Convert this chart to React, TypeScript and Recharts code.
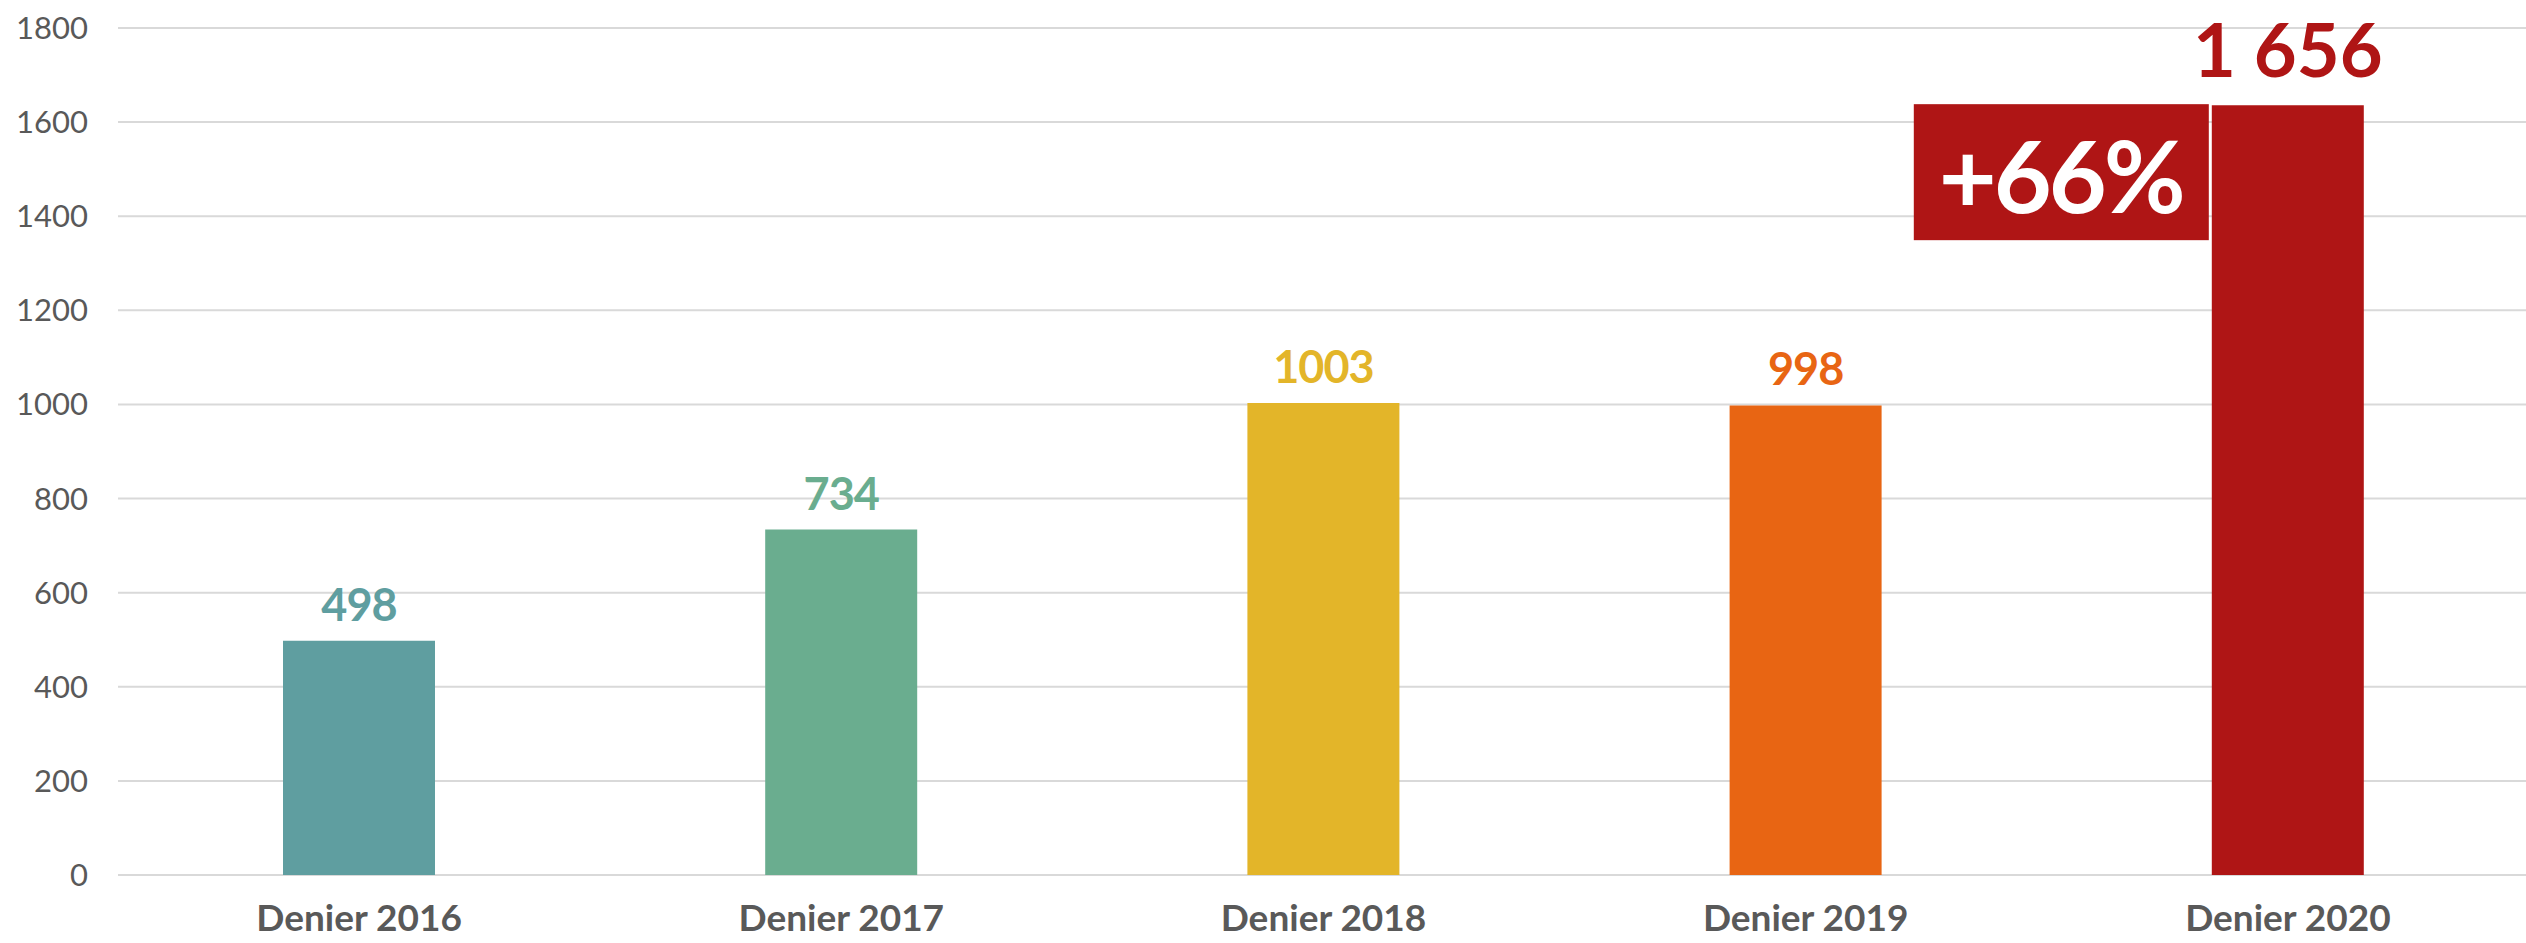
import { BarChart, Bar, XAxis, YAxis, CartesianGrid, Cell, LabelList } from 'recharts';

const categories = ['Denier 2016', 'Denier 2017', 'Denier 2018', 'Denier 2019', 'Denier 2020'];
const values = [498, 734, 1003, 998, 1636];
const valueLabels = ['498', '734', '1003', '998', '1 656'];
const barColors = ['#5F9EA0', '#6AAD8F', '#E3B529', '#E86513', '#AF1515'];
const yTicks = [0, 200, 400, 600, 800, 1000, 1200, 1400, 1600, 1800];
const growthLabel = '+66%';

const data = categories.map((name, i) => ({ name, value: values[i], label: valueLabels[i] }));

const FONT = 'Lato, "Noto Sans", sans-serif';
const last = categories.length - 1;

const ValueLabel = (props: any) => {
  const { x, y, width, index } = props;
  const big = index === last;
  return (
    <text
      x={x + width / 2}
      y={y - (big ? 28 : 20)}
      textAnchor="middle"
      fill={barColors[index]}
      fontFamily={FONT}
      fontWeight={700}
      fontSize={big ? 74 : 45}
      letterSpacing={big ? 0 : -1}
    >
      {valueLabels[index]}
    </text>
  );
};

const GrowthBox = (props: any) => {
  const { x, y, index } = props;
  if (index !== last) return null;
  return (
    <g>
      <rect x={x - 298} y={y - 1} width={295} height={136} fill={barColors[last]} />
      <text
        x={x - 151}
        y={y + 108}
        textAnchor="middle"
        fill="#fff"
        fontFamily={FONT}
        fontWeight={700}
        fontSize={100}
        letterSpacing={-3}
      >
        {growthLabel}
      </text>
    </g>
  );
};

export default function App() {
  return (
    <div style={{ position: 'absolute', left: 0, top: 0, width: 2526, height: 943, background: '#fff' }}>
      <BarChart width={2526} height={943} data={data} margin={{ top: 28, right: -3, bottom: 0, left: 0 }}>
        <CartesianGrid vertical={false} stroke="#D9D9D9" strokeWidth={2} />
        <XAxis
          dataKey="name"
          axisLine={false}
          tickLine={false}
          tickSize={0}
          tickMargin={30}
          height={68}
          tick={{ fill: '#595959', fontFamily: FONT, fontWeight: 700, fontSize: 37 }}
        />
        <YAxis
          domain={[0, 1800]}
          ticks={yTicks}
          axisLine={false}
          tickLine={false}
          tickSize={0}
          tickMargin={30}
          width={118}
          tick={{ fill: '#595959', fontFamily: FONT, fontSize: 31 }}
        />
        <Bar dataKey="value" barSize={152} isAnimationActive={false}>
          {data.map((d, i) => (
            <Cell key={d.name} fill={barColors[i]} />
          ))}
          <LabelList dataKey="label" content={ValueLabel} />
          <LabelList dataKey="label" content={GrowthBox} />
        </Bar>
      </BarChart>
    </div>
  );
}
